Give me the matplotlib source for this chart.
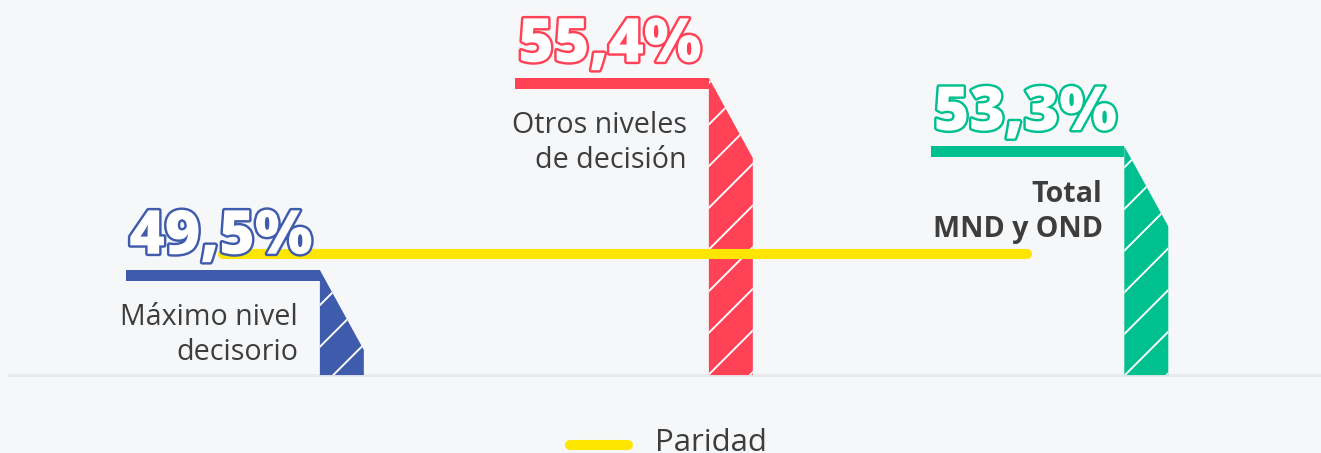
import matplotlib.pyplot as plt
from matplotlib.patches import Polygon
import matplotlib.patheffects as pe

plt.rcParams['font.family'] = ['Open Sans', 'DejaVu Sans']
plt.rcParams['hatch.linewidth'] = 1.1

categories = ['Máximo nivel\ndecisorio', 'Otros niveles\nde decisión', 'Total\nMND y OND']
values = [49.5, 55.4, 53.3]
colors = ['#3f5bab', '#ff4255', '#00c08f']
bold_label = [False, False, True]
parity = 50.0
parity_label = 'Paridad'

# layout
x_pos = [0.0, 1.0, 2.068]
cap_half = 0.249
bar_w = 0.113
slant = 2.46
cap_t = 0.33
floor = 46.27
line_gap = 1.076
bg = '#f6f7f9'
text_col = '#3d3d3d'
yellow = '#ffe600'

fig = plt.figure(figsize=(1321 / 125, 453 / 125), dpi=125, facecolor=bg)
ax = fig.add_axes([0, 0, 1, 1])
ax.set_facecolor(bg)
ax.set_xlim(-0.5733, 2.8226)
ax.set_ylim(43.876, 57.797)
ax.axis('off')

for x, v, c, lab, b in zip(x_pos, values, colors, categories, bold_label):
    left = x - cap_half
    bl = x + cap_half
    br = bl + bar_w
    # top cap
    ax.fill_between([left, bl], v - cap_t, v, color=c, lw=0, zorder=3)
    # hatched bar body
    poly = Polygon([(bl, v), (br, v - slant), (br, floor), (bl, floor)],
                   closed=True, facecolor=c, edgecolor='white', lw=0,
                   hatch='/', zorder=3)
    ax.add_patch(poly)
    txt = f'{v:.1f}'.replace('.', ',') + '%'
    ax.text(left + 0.008, v + 0.5, txt, fontsize=35, fontweight='heavy',
            color='white', ha='left', va='baseline', zorder=6,
            path_effects=[pe.withStroke(linewidth=2.8, foreground=c)])
    for i, line in enumerate(lab.split('\n')):
        ax.text(bl - 0.056, v - 1.7 - i * line_gap, line, fontsize=16.5,
                fontweight='bold' if b else 'normal', color=text_col,
                ha='right', va='baseline', zorder=5)

ax.plot([x_pos[0], x_pos[-1]], [parity, parity], color=yellow, lw=5.8,
        solid_capstyle='round', zorder=4)
ax.axhline(floor, xmin=9 / 1321, xmax=1, color='#e9eaec', lw=1.7, zorder=2)

# legend
ax.plot([570 / 1321, 628 / 1321], [8 / 453, 8 / 453], transform=ax.transAxes,
        color=yellow, lw=5.8, solid_capstyle='round', clip_on=False)
ax.text(655 / 1321, 2 / 453, parity_label, transform=ax.transAxes,
        fontsize=18, color=text_col, ha='left', va='baseline')

fig.savefig('out.png', dpi=125, facecolor=bg)
